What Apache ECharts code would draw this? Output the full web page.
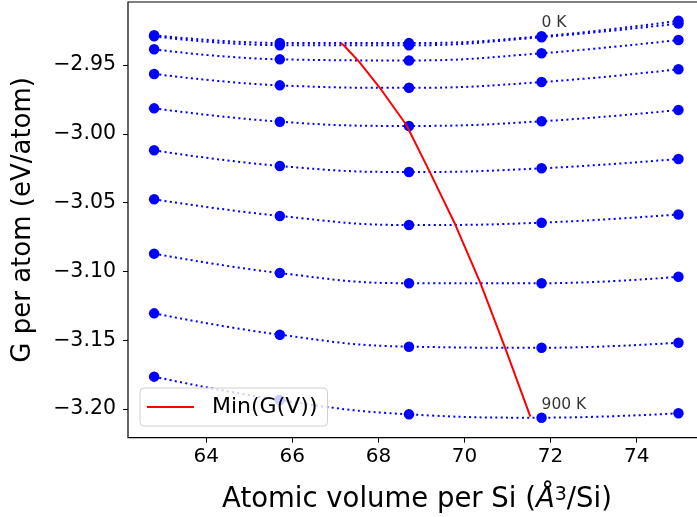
<!DOCTYPE html>
<html>
<head>
<meta charset="utf-8">
<script src="https://cdn.jsdelivr.net/npm/echarts@6/dist/echarts.min.js"></script>
<style>
  html, body { margin: 0; padding: 0; background: #fff; }
  #chart { width: 697px; height: 517px; }
</style>
</head>
<body>
<div id="chart"></div>
<script>
// ---- data ----
const volumes = [62.79, 65.71, 68.71, 71.79, 74.97];
const temperatures = [0, 100, 200, 300, 400, 500, 600, 700, 800, 900];
const G_0K   = [-2.9283, -2.9340, -2.9341, -2.9291, -2.9179];
const G_100K = [-2.9292, -2.9356, -2.9357, -2.9298, -2.9199];
const G_200K = [-2.9386, -2.9459, -2.9467, -2.9415, -2.9318];
const G_300K = [-2.9565, -2.9648, -2.9666, -2.9624, -2.9531];
const G_400K = [-2.9815, -2.9912, -2.9943, -2.9909, -2.9827];
const G_500K = [-3.0120, -3.0234, -3.0278, -3.0251, -3.0183];
const G_600K = [-3.0476, -3.0597, -3.0663, -3.0646, -3.0586];
const G_700K = [-3.0871, -3.1012, -3.1086, -3.1086, -3.1039];
const G_800K = [-3.1305, -3.1460, -3.1547, -3.1555, -3.1518];
const G_900K = [-3.1765, -3.1935, -3.2039, -3.2063, -3.2031];
const curves = [G_0K, G_100K, G_200K, G_300K, G_400K, G_500K, G_600K, G_700K, G_800K, G_900K];
// minimum of each fitted curve (red line vertices)
const minVolume = [67.13, 67.20, 67.55, 68.02, 68.65, 69.19, 69.78, 70.37, 70.94, 71.53];
const minG      = [-2.9342, -2.9358, -2.9476, -2.9660, -2.9936, -3.0275, -3.0656, -3.1086, -3.1552, -3.2056];
const annotatedIndex = [0, 9];           // curves whose temperature is written
const annotatedVolumeIndex = 3;          // written next to the point at this volume
const legendName = 'Min(G(V))';

const FONT = 'DejaVu Sans';
const chart = echarts.init(document.getElementById('chart'), null, { renderer: 'canvas' });

const series = [];
curves.forEach(function (g, i) {
  series.push({
    name: temperatures[i] + ' K',
    type: 'line',
    data: volumes.map(function (v, j) { return [v, g[j]]; }),
    smooth: 0.45,
    symbol: 'circle',
    symbolSize: 10.5,
    showSymbol: true,
    itemStyle: { color: '#0000ff' },
    lineStyle: { color: '#0000ff', width: 2, type: [2, 3.3] },
    emphasis: { disabled: true },
    z: 2
  });
});
series.push({
  name: legendName,
  type: 'line',
  data: minVolume.map(function (v, i) { return [v, minG[i]]; }),
  symbol: 'none',
  showSymbol: false,
  lineStyle: { color: '#ff0000', width: 2 },
  itemStyle: { color: '#ff0000' },
  emphasis: { disabled: true },
  z: 3
});
series.push({
  name: 'labels',
  type: 'scatter',
  symbolSize: 0.01,
  data: annotatedIndex.map(function (i) {
    return { value: [volumes[annotatedVolumeIndex], curves[i][annotatedVolumeIndex]], name: temperatures[i] + ' K' };
  }),
  label: {
    show: true,
    formatter: '{b}',
    position: [0, 0],
    align: 'left',
    verticalAlign: 'bottom',
    offset: [0, -5],
    fontFamily: FONT,
    fontSize: 15.5,
    color: '#000'
  },
  emphasis: { disabled: true },
  z: 5
});

chart.setOption({
  animation: false,
  backgroundColor: '#ffffff',
  textStyle: { fontFamily: FONT },
  grid: {
    left: 128, top: 2, width: 578, height: 435.7,
    show: true, borderColor: '#000', borderWidth: 1.2,
    outerBoundsMode: 'none', containLabel: false
  },
  legend: {
    data: [{ name: legendName, icon: 'rect' }],
    left: 140, top: 388,
    orient: 'vertical',
    padding: [8, 10, 8, 7],
    itemWidth: 47, itemHeight: 2,
    backgroundColor: 'rgba(255,255,255,0.8)',
    borderColor: '#d0d0d0', borderWidth: 1, borderRadius: 4,
    textStyle: { fontFamily: FONT, fontSize: 22, color: '#000', padding: [0, 0, 0, 13] },
    selectedMode: false,
    z: 10
  },
  xAxis: {
    type: 'value',
    min: 62.183, max: 75.61,
    minInterval: 2, maxInterval: 2,
    splitLine: { show: false },
    axisLine: { show: false },
    axisTick: { show: true, length: 5, lineStyle: { color: '#000', width: 1 } },
    axisLabel: {
      showMinLabel: false, showMaxLabel: false,
      margin: 9, fontFamily: FONT, fontSize: 20, color: '#000',
      formatter: function (v) { return String(v); }
    },
    name: 'Atomic volume per Si ({i|Å}{sup|3}/Si)',
    nameLocation: 'middle',
    nameGap: 48,
    nameTextStyle: {
      fontFamily: FONT, fontSize: 27.5, color: '#000',
      rich: {
        i: { fontFamily: FONT, fontSize: 27.5, fontStyle: 'italic', color: '#000' },
        sup: { fontFamily: FONT, fontSize: 19, color: '#000', verticalAlign: 'top', padding: [0, 0, 8, 0] }
      }
    }
  },
  yAxis: {
    type: 'value',
    min: -3.22086, max: -2.90422,
    minInterval: 0.05, maxInterval: 0.05,
    splitLine: { show: false },
    axisLine: { show: false },
    axisTick: { show: true, length: 5, lineStyle: { color: '#000', width: 1 } },
    axisLabel: {
      showMinLabel: false, showMaxLabel: false,
      margin: 12, fontFamily: FONT, fontSize: 20.5, color: '#000',
      formatter: function (v) { return v.toFixed(2).replace('-', '\u2212'); }
    },
    name: 'G per atom (eV/atom)',
    nameLocation: 'middle',
    nameGap: 92,
    nameTextStyle: { fontFamily: FONT, fontSize: 26, color: '#000' }
  },
  series: series
});
</script>
</body>
</html>
